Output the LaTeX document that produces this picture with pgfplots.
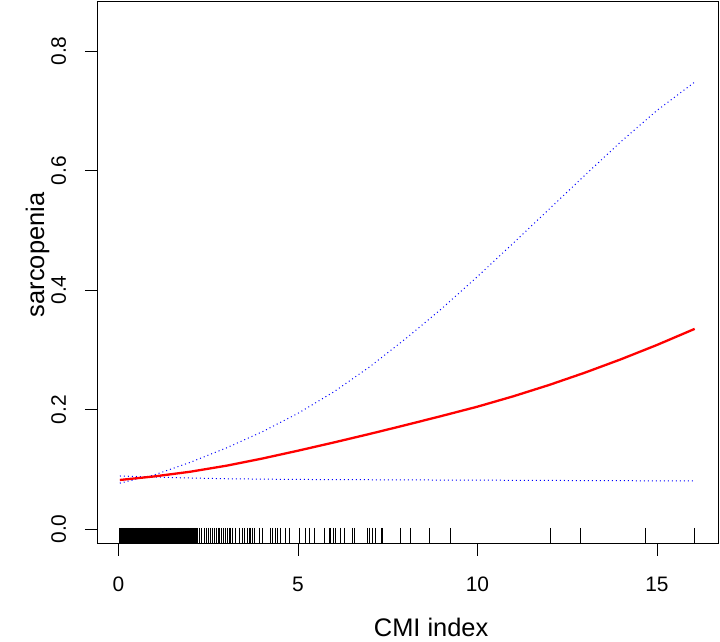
\documentclass[border=0pt]{standalone}
\usepackage{fontspec}
\setmainfont{Liberation Sans}
\usepackage{pgfplots}
\pgfplotsset{compat=1.18}
\begin{document}
\begin{tikzpicture}[x=1bp,y=1bp]
\begin{axis}[
  at={(0,0)}, anchor=south west,
  scale only axis, width=621bp, height=542.5bp,
  xmin=-0.596, xmax=16.70, ymin=-0.0243, ymax=0.8837,
  xtick={0,5,10,15}, xticklabels={0,5,10,15},
  ytick={0,0.2,0.4,0.6,0.8}, yticklabels={0.0,0.2,0.4,0.6,0.8},
  tick align=outside, major tick length=12bp,
  xtick pos=bottom, ytick pos=left,
  tick style={black, line width=0.8bp},
  axis line style={black, line width=0.8bp},
  xticklabel style={font=\fontsize{21}{21}\selectfont, anchor=north, inner sep=0pt},
  yticklabel style={font=\fontsize{21}{21}\selectfont, rotate=90, anchor=south, inner sep=0pt},
  xticklabel shift=21bp,
  yticklabel shift=18.6bp,
  xlabel={CMI index},
  ylabel={sarcopenia},
  xlabel style={font=\fontsize{25.5}{25.5}\selectfont, at={(axis description cs:0.538,-0.1718)}, anchor=base, inner sep=0pt},
  ylabel style={font=\fontsize{25.5}{25.5}\selectfont, at={(axis description cs:-0.0853,0.532)}, rotate=0, anchor=base, inner sep=0pt},
  clip=false,
]
% rug: dense part
\addplot[only marks, mark=|, mark size=7.8pt, mark options={line width=1.3bp, black}] coordinates {
(0.04,-0.0113) (0.07,-0.0113) (0.10,-0.0113) (0.13,-0.0113) (0.16,-0.0113) (0.19,-0.0113) (0.22,-0.0113) (0.25,-0.0113)
(0.28,-0.0113) (0.31,-0.0113) (0.34,-0.0113) (0.37,-0.0113) (0.40,-0.0113) (0.43,-0.0113) (0.46,-0.0113) (0.49,-0.0113)
(0.52,-0.0113) (0.55,-0.0113) (0.58,-0.0113) (0.61,-0.0113) (0.64,-0.0113) (0.67,-0.0113) (0.70,-0.0113) (0.73,-0.0113)
(0.76,-0.0113) (0.79,-0.0113) (0.82,-0.0113) (0.85,-0.0113) (0.88,-0.0113) (0.91,-0.0113) (0.94,-0.0113) (0.97,-0.0113)
(1.00,-0.0113) (1.03,-0.0113) (1.06,-0.0113) (1.09,-0.0113) (1.12,-0.0113) (1.15,-0.0113) (1.18,-0.0113) (1.21,-0.0113)
(1.24,-0.0113) (1.27,-0.0113) (1.30,-0.0113) (1.33,-0.0113) (1.36,-0.0113) (1.39,-0.0113) (1.42,-0.0113) (1.45,-0.0113)
(1.48,-0.0113) (1.51,-0.0113) (1.54,-0.0113) (1.57,-0.0113) (1.60,-0.0113) (1.63,-0.0113) (1.66,-0.0113) (1.69,-0.0113)
(1.72,-0.0113) (1.75,-0.0113) (1.78,-0.0113) (1.81,-0.0113) (1.84,-0.0113) (1.87,-0.0113) (1.90,-0.0113) (1.93,-0.0113)
(1.96,-0.0113) (1.99,-0.0113) (2.02,-0.0113) (2.05,-0.0113) (2.08,-0.0113) (2.11,-0.0113) (2.14,-0.0113) (2.16,-0.0113)
};
% rug: sparse part
\addplot[only marks, mark=|, mark size=7.8pt, mark options={line width=0.7bp, black}] coordinates {
(2.20,-0.0113) (2.26,-0.0113) (2.32,-0.0113) (2.38,-0.0113) (2.45,-0.0113) (2.51,-0.0113) (2.57,-0.0113) (2.62,-0.0113)
(2.66,-0.0113) (2.73,-0.0113) (2.79,-0.0113) (2.82,-0.0113) (2.88,-0.0113) (2.92,-0.0113) (2.97,-0.0113) (3.04,-0.0113)
(3.08,-0.0113) (3.13,-0.0113) (3.18,-0.0113) (3.27,-0.0113) (3.36,-0.0113) (3.45,-0.0113) (3.52,-0.0113) (3.59,-0.0113)
(3.64,-0.0113) (3.68,-0.0113) (3.73,-0.0113) (3.80,-0.0113) (3.92,-0.0113) (4.01,-0.0113) (4.24,-0.0113) (4.29,-0.0113)
(4.38,-0.0113) (4.43,-0.0113) (4.52,-0.0113) (4.64,-0.0113) (4.77,-0.0113) (5.03,-0.0113) (5.22,-0.0113) (5.31,-0.0113)
(5.45,-0.0113) (5.73,-0.0113) (5.87,-0.0113) (5.91,-0.0113) (5.98,-0.0113) (6.05,-0.0113) (6.19,-0.0113) (6.28,-0.0113)
(6.52,-0.0113) (6.56,-0.0113) (6.94,-0.0113) (6.98,-0.0113) (7.07,-0.0113) (7.17,-0.0113) (7.31,-0.0113) (7.35,-0.0113)
(7.85,-0.0113) (8.13,-0.0113) (8.65,-0.0113) (9.24,-0.0113) (12.02,-0.0113) (12.87,-0.0113) (14.68,-0.0113) (16.05,-0.0113)
};
% upper CI
\addplot[blue, line width=1bp, dash pattern=on 1bp off 3bp] coordinates {
(0.04,0.0767) (1,0.0905) (2,0.1115) (3,0.1355) (4,0.1625) (5,0.1935) (6,0.2295) (7,0.2715)
(8,0.3185) (9,0.3685) (10,0.4225) (11,0.4785) (12,0.5355) (13,0.5925) (14,0.6485) (15,0.7005) (16.05,0.748)
};
% lower CI
\addplot[blue, line width=1bp, dash pattern=on 1bp off 3bp] coordinates {
(0.04,0.0887) (1,0.0869) (2,0.0853) (3,0.0841) (4,0.0834) (5,0.0829) (7,0.0824) (9,0.0819)
(11,0.0815) (13,0.0810) (15,0.0806) (16.05,0.0803)
};
% estimate
\addplot[red, line width=2.3bp] coordinates {
(0.04,0.082) (1,0.0880) (2,0.0958) (3,0.1058) (4,0.1178) (5,0.1310) (6,0.1448) (7,0.1591)
(8,0.1739) (9,0.1891) (10,0.2047) (11,0.2221) (12,0.2411) (13,0.2618) (14,0.2841) (15,0.3080) (16.05,0.3349)
};
\end{axis}
\pgfresetboundingbox
\path (-97,-98.5) rectangle (623,543.5);
\end{tikzpicture}
\end{document}
